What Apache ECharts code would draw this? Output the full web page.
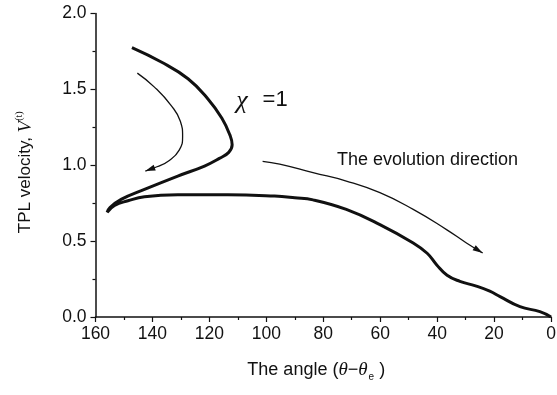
<!DOCTYPE html>
<html>
<head>
<meta charset="utf-8">
<script src="https://cdn.jsdelivr.net/npm/echarts@6/dist/echarts.min.js"></script>
<style>
  html, body { margin: 0; padding: 0; background: #fff; }
  #chart { width: 557px; height: 395px; }
</style>
</head>
<body>
<div id="chart"></div>
<script>
// TPL velocity versus angle (theta - theta_e), chi = 1
// Angle values in degrees, velocity dimensionless.
const trajectoryAngle = [147.2, 136.9, 127.5, 120.5, 115.6, 112.8, 112.0, 113.2, 116.5, 121.7, 131.1, 142.8, 151.0, 155.0, 155.9,
  153.3, 148.6, 142.8, 131.1, 113.5, 97.1, 90.0, 83.6, 71.9, 60.1, 48.4, 43.5, 40.2, 36.5, 32.0, 26.5, 21.5, 17.9, 10.9, 3.9, 0.0];
const trajectoryVelocity = [1.775, 1.68, 1.57, 1.437, 1.31, 1.20, 1.135, 1.085, 1.045, 0.995, 0.929, 0.841, 0.775, 0.72, 0.69,
  0.735, 0.766, 0.793, 0.806, 0.806, 0.797, 0.786, 0.772, 0.709, 0.609, 0.488, 0.42, 0.345, 0.275, 0.235, 0.205, 0.17, 0.134, 0.068, 0.035, 0.0];

// Guide arrows showing the direction of evolution
const arrowUpperAngle = [145.3, 139.3, 133.4, 130.2, 129.4, 130.6, 134.2, 138.4, 142.5];
const arrowUpperVelocity = [1.607, 1.515, 1.393, 1.29, 1.19, 1.10, 1.03, 0.99, 0.962];
const arrowLowerAngle = [101.3, 95.3, 83.6, 71.9, 60.1, 48.4, 36.7, 29.7, 24.0];
const arrowLowerVelocity = [1.026, 1.007, 0.951, 0.896, 0.819, 0.709, 0.576, 0.488, 0.422];

const xTickValues = [0, 20, 40, 60, 80, 100, 120, 140, 160];
const yTickLabels = ['0.0', '0.5', '1.0', '1.5', '2.0'];

const zip = (xs, ys) => xs.map((x, i) => [x, ys[i]]);
const trajectory = zip(trajectoryAngle, trajectoryVelocity);
const arrowUpper = zip(arrowUpperAngle, arrowUpperVelocity);
const arrowLower = zip(arrowLowerAngle, arrowLowerVelocity);

const FONT = '"Liberation Sans", Arial, Helvetica, sans-serif';
const SERIF = '"Liberation Serif", "Times New Roman", serif';
const INK = '#111';

const axisCommon = {
  axisLine: { show: true, onZero: false, lineStyle: { color: INK, width: 1.5 } },
  axisTick: { show: true, length: 5, lineStyle: { color: INK, width: 1.2 } },
  minorTick: { show: true, splitNumber: 2, length: 3, lineStyle: { color: INK, width: 1.2 } },
  splitLine: { show: false },
  minorSplitLine: { show: false }
};

const chart = echarts.init(document.getElementById('chart'), null, { renderer: 'canvas' });

const option = {
  animation: false,
  backgroundColor: '#fff',
  grid: { left: 95.5, right: 6, top: 13.5, bottom: 78, containLabel: false, outerBoundsMode: 'none' },
  xAxis: Object.assign({
    type: 'value',
    min: 0, max: 160, interval: 20,
    inverse: true,
    name: 'The angle ({i|θ}{n|−}{i|θ}{sub|e}{n| )}',
    nameLocation: 'middle',
    nameGap: 41,
    nameTextStyle: {
      fontFamily: FONT, fontSize: 18, color: INK, padding: [0, 14, 0, 0],
      rich: {
        i: { fontFamily: SERIF, fontStyle: 'italic', fontSize: 19, color: INK },
        n: { fontFamily: FONT, fontSize: 18, color: INK },
        sub: { fontFamily: FONT, fontSize: 10, color: INK, padding: [14, 0, 0, 1] }
      }
    },
    axisLabel: {
      fontFamily: FONT, fontSize: 17.5, color: INK, margin: 8,
      formatter: v => (xTickValues.indexOf(v) >= 0 ? String(v) : '')
    }
  }, axisCommon),
  yAxis: Object.assign({
    type: 'value',
    min: 0, max: 2, interval: 0.5,
    name: 'TPL velocity, {v|V}{s|(t)}',
    nameLocation: 'middle',
    nameGap: 59,
    nameTextStyle: {
      fontFamily: FONT, fontSize: 17, color: INK, padding: [0, 14, 0, 0],
      rich: {
        v: { fontFamily: SERIF, fontStyle: 'italic', fontSize: 19, color: INK },
        s: { fontFamily: SERIF, fontSize: 10, color: INK, padding: [0, 0, 12, 0] }
      }
    },
    axisLabel: {
      fontFamily: FONT, fontSize: 17.5, color: INK, margin: 9,
      formatter: v => yTickLabels[Math.round(v / 0.5)] || ''
    }
  }, axisCommon),
  series: [
    {
      name: 'chi = 1', type: 'line', data: trajectory, smooth: 0.45,
      showSymbol: false, lineStyle: { color: INK, width: 3 }
    },
    {
      name: 'guide upper', type: 'line', data: arrowUpper, smooth: 0.5,
      showSymbol: false, lineStyle: { color: INK, width: 1.3 }
    },
    {
      name: 'guide lower', type: 'line', data: arrowLower, smooth: 0.5,
      showSymbol: false, lineStyle: { color: INK, width: 1.3 }
    }
  ]
};

chart.setOption(option);

// Arrowheads at the ends of the guide curves, oriented along the last segment
function arrowHead(points) {
  const n = points.length;
  const tip = chart.convertToPixel({ gridIndex: 0 }, points[n - 1]);
  const prev = chart.convertToPixel({ gridIndex: 0 }, points[n - 2]);
  let dx = tip[0] - prev[0], dy = tip[1] - prev[1];
  const len = Math.hypot(dx, dy) || 1;
  dx /= len; dy /= len;
  const L = 10, W = 3;
  const bx = tip[0] - dx * L, by = tip[1] - dy * L;
  return {
    type: 'polygon',
    shape: { points: [tip, [bx - dy * W, by + dx * W], [bx + dy * W, by - dx * W]] },
    style: { fill: INK },
    z: 10
  };
}

function labelAt(point, text, style) {
  const p = chart.convertToPixel({ gridIndex: 0 }, point);
  return { type: 'text', x: p[0], y: p[1], style: Object.assign({ text: text, fill: INK, verticalAlign: 'middle' }, style), z: 10 };
}

chart.setOption({
  graphic: [
    arrowHead(arrowUpper),
    arrowHead(arrowLower),
    labelAt([110.6, 1.42], 'χ', { font: 'italic 26px ' + SERIF }),
    labelAt([101.3, 1.43], '=1', { font: '22px ' + FONT }),
    labelAt([75.2, 1.035], 'The evolution direction', { font: '18px ' + FONT })
  ]
});
</script>
</body>
</html>
